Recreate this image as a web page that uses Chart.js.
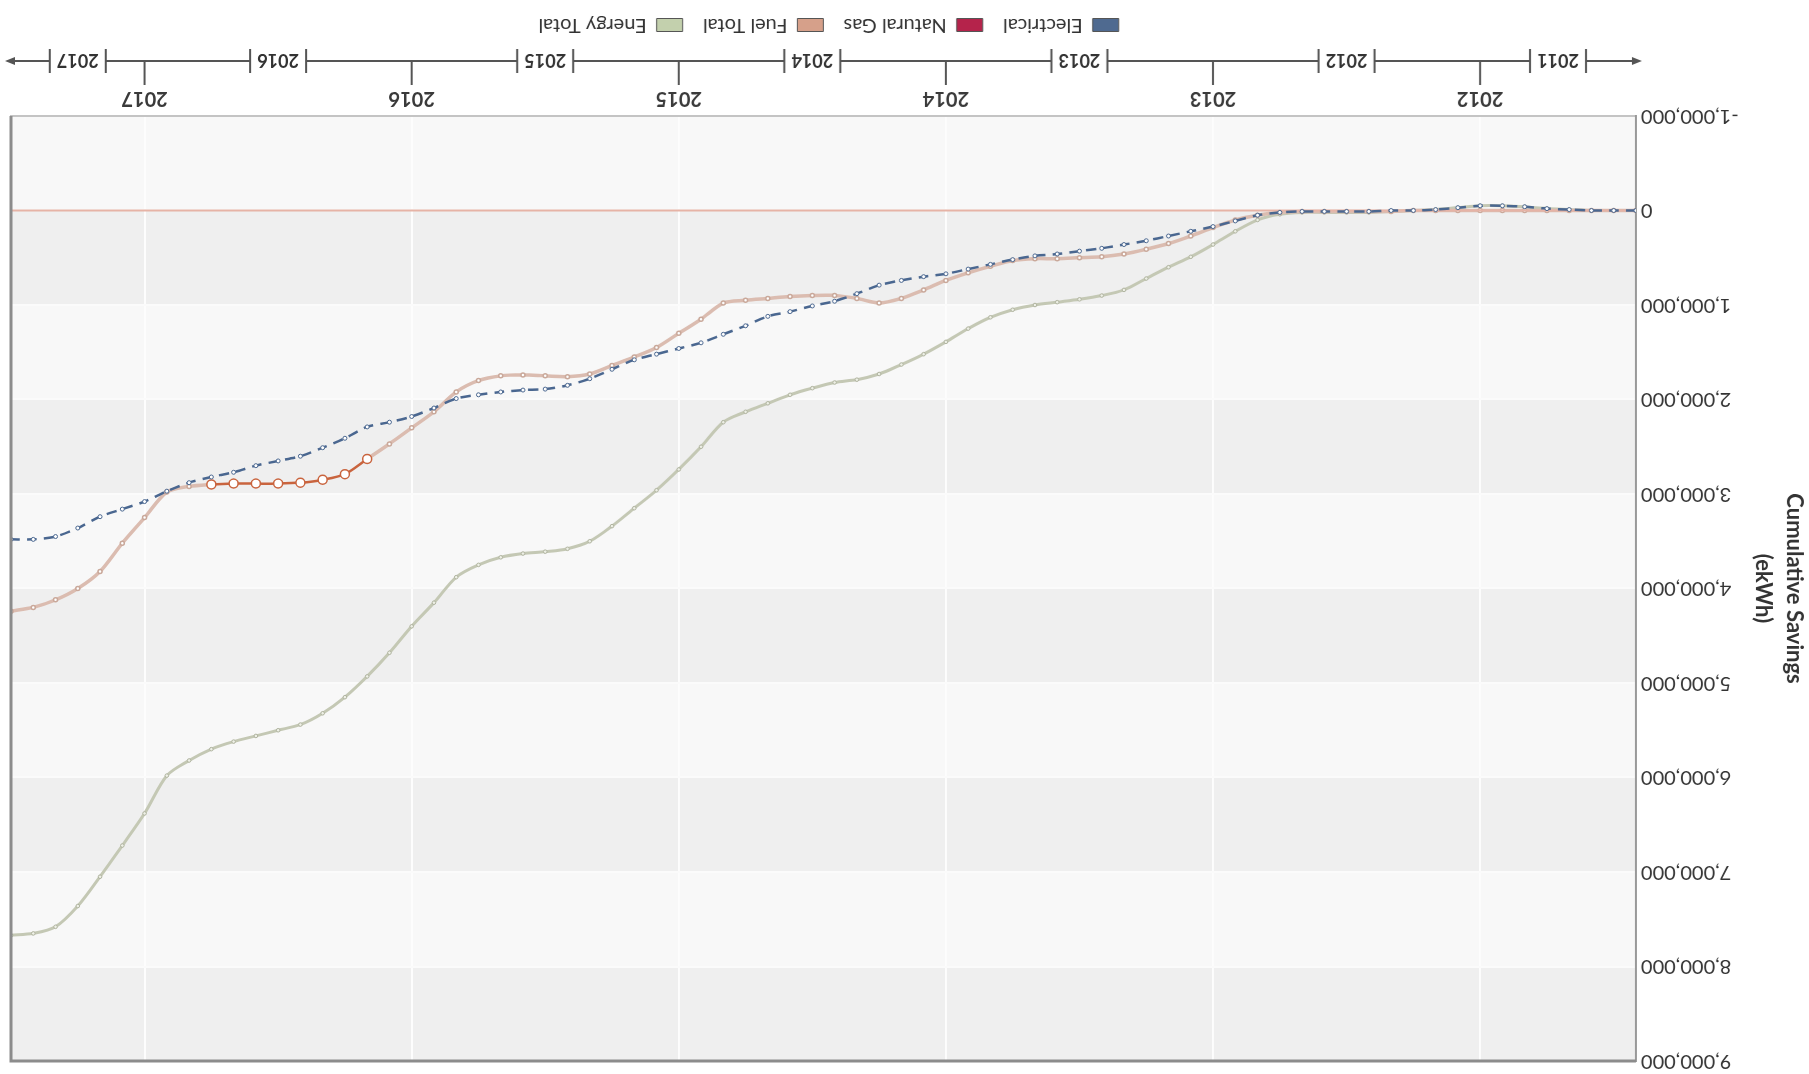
<!DOCTYPE html>
<html>
<head>
<meta charset="utf-8">
<script src="https://cdn.jsdelivr.net/npm/chart.js@4.4.1/dist/chart.umd.min.js"></script>
<style>
  html, body { margin: 0; padding: 0; background: #fff; overflow: hidden; }
  /* the reference picture is upside down, so the whole chart is turned 180 degrees */
  #wrap { width: 1809px; height: 1074px; transform: rotate(180deg); }
</style>
</head>
<body>
<div id="wrap"><canvas id="graficoRisparmi" width="1809" height="1074"></canvas></div>
<script>
// DATI
const months = [
  "2011-06", "2011-07", "2011-08", "2011-09", "2011-10", "2011-11", "2011-12",
  "2012-01", "2012-02", "2012-03", "2012-04", "2012-05", "2012-06", "2012-07", "2012-08", "2012-09", "2012-10", "2012-11", "2012-12",
  "2013-01", "2013-02", "2013-03", "2013-04", "2013-05", "2013-06", "2013-07", "2013-08", "2013-09", "2013-10", "2013-11", "2013-12",
  "2014-01", "2014-02", "2014-03", "2014-04", "2014-05", "2014-06", "2014-07", "2014-08", "2014-09", "2014-10", "2014-11", "2014-12",
  "2015-01", "2015-02", "2015-03", "2015-04", "2015-05", "2015-06", "2015-07", "2015-08", "2015-09", "2015-10", "2015-11", "2015-12",
  "2016-01", "2016-02", "2016-03", "2016-04", "2016-05", "2016-06", "2016-07", "2016-08", "2016-09", "2016-10", "2016-11", "2016-12",
  "2017-01", "2017-02", "2017-03", "2017-04", "2017-05", "2017-06", "2017-07"
];

// cumulative savings, ekWh
const electrical = [
  0, 0, 0, -10000, -20000, -40000, -50000,
  -50000, -30000, -10000, 0, 0, 10000, 10000, 10000, 10000, 20000, 50000, 110000,
  170000, 220000, 270000, 320000, 360000, 400000, 430000, 460000, 480000, 520000, 570000, 620000,
  670000, 700000, 740000, 790000, 880000, 960000, 1010000, 1070000, 1120000, 1220000, 1310000, 1400000,
  1460000, 1520000, 1580000, 1680000, 1780000, 1850000, 1890000, 1900000, 1920000, 1950000, 1990000, 2090000,
  2180000, 2240000, 2290000, 2410000, 2510000, 2600000, 2650000, 2700000, 2770000, 2820000, 2880000, 2970000,
  3080000, 3160000, 3240000, 3360000, 3450000, 3480000, 3480000
];
const naturalGas = [
  0, 0, 0, 0, 0, 0, 0,
  0, 0, 0, 0, 0, 0, 0, 0, 0, 0, 0, 0,
  0, 0, 0, 0, 0, 0, 0, 0, 0, 0, 0, 0,
  0, 0, 0, 0, 0, 0, 0, 0, 0, 0, 0, 0,
  0, 0, 0, 0, 0, 0, 0, 0, 0, 0, 0, 0,
  0, 0, 0, 0, 0, 0, 0, 0, 0, 0, 0, 0,
  0, 0, 0, 0, 0, 0, 0
];
const fuelTotal = [
  0, 0, 0, 0, 0, 0, 0,
  0, 0, 0, 0, 10000, 10000, 10000, 10000, 10000, 20000, 50000, 100000,
  180000, 270000, 350000, 410000, 460000, 490000, 500000, 510000, 510000, 530000, 590000, 660000,
  740000, 840000, 930000, 980000, 930000, 900000, 900000, 910000, 930000, 950000, 980000, 1150000,
  1300000, 1450000, 1550000, 1640000, 1730000, 1760000, 1750000, 1740000, 1750000, 1800000, 1920000, 2130000,
  2300000, 2470000, 2630000, 2790000, 2850000, 2880000, 2890000, 2890000, 2890000, 2900000, 2920000, 2980000,
  3250000, 3520000, 3820000, 4000000, 4120000, 4200000, 4240000
];
const energyTotal = [
  0, 0, 0, -10000, -20000, -40000, -50000,
  -50000, -30000, -10000, 0, 10000, 20000, 20000, 20000, 20000, 40000, 100000, 220000,
  360000, 490000, 600000, 720000, 840000, 900000, 940000, 970000, 1000000, 1050000, 1130000, 1250000,
  1390000, 1520000, 1630000, 1730000, 1790000, 1820000, 1880000, 1950000, 2040000, 2130000, 2240000, 2500000,
  2740000, 2960000, 3150000, 3340000, 3500000, 3580000, 3610000, 3630000, 3670000, 3750000, 3880000, 4150000,
  4400000, 4680000, 4930000, 5150000, 5320000, 5440000, 5500000, 5560000, 5620000, 5700000, 5820000, 5980000,
  6380000, 6720000, 7050000, 7360000, 7580000, 7650000, 7670000
];

const seriesNames = ["Electrical", "Natural Gas", "Fuel Total", "Energy Total"];
const yearTicks = [2012, 2013, 2014, 2015, 2016, 2017];
const bandYears = [2011, 2012, 2013, 2014, 2015, 2016, 2017];
const yMin = -1000000;
const yMax = 9000000;

// mese "2014-03" -> 2014.1667
const toYear = (m) => Number(m.slice(0, 4)) + (Number(m.slice(5, 7)) - 1) / 12;
const punti = (valori) => valori.map((v, i) => ({ x: toYear(months[i]), y: v }));

Chart.defaults.font.family = "Lato";

// fasce grigie alternate dietro al grafico
const fasce = {
  id: "fasce",
  afterLayout(chart) {
    // legenda centrata sull'area del grafico, non sulla tela
    const lg = chart.legend;
    if (lg) {
      const shift = (chart.chartArea.left + chart.chartArea.right) / 2 - (lg.left + lg.right) / 2;
      lg.left += shift;
      lg.right += shift;
    }
  },
  beforeDraw(chart) {
    const ctx = chart.ctx;
    const a = chart.chartArea;
    const y = chart.scales.y;
    ctx.save();
    ctx.fillStyle = "#f8f8f8";
    ctx.fillRect(a.left, a.top, a.width, a.height);
    ctx.fillStyle = "#efefef";
    for (let k = 1; k < y.ticks.length - 1; k += 2) {
      const y0 = y.getPixelForValue(y.ticks[k].value);
      const y1 = y.getPixelForValue(y.ticks[k + 1].value);
      ctx.fillRect(a.left, y1, a.width, y0 - y1);
    }
    ctx.restore();
  },
  afterDatasetsDraw(chart) {
    const ctx = chart.ctx;
    const a = chart.chartArea;
    ctx.save();
    ctx.strokeStyle = "#8c8c8c";
    ctx.lineWidth = 3;
    ctx.beginPath();
    ctx.moveTo(a.left, a.top);
    ctx.lineTo(a.right, a.top);
    ctx.lineTo(a.right, a.bottom);
    ctx.stroke();
    ctx.restore();
  }
};

// banda degli anni sotto l'asse x
const bandaAnni = {
  id: "bandaAnni",
  afterDraw(chart) {
    const ctx = chart.ctx;
    const x = chart.scales.x;
    const a = chart.chartArea;
    const y = x.top + 55;
    ctx.save();
    ctx.strokeStyle = "#555";
    ctx.fillStyle = "#555";
    ctx.lineWidth = 2;

    ctx.beginPath();
    ctx.moveTo(a.left, y);
    ctx.lineTo(a.right, y);
    ctx.stroke();

    // frecce
    ctx.beginPath();
    ctx.moveTo(a.left - 6, y);
    ctx.lineTo(a.left + 4, y - 4);
    ctx.lineTo(a.left + 4, y + 4);
    ctx.closePath();
    ctx.fill();
    ctx.beginPath();
    ctx.moveTo(a.right + 6, y);
    ctx.lineTo(a.right - 4, y - 4);
    ctx.lineTo(a.right - 4, y + 4);
    ctx.closePath();
    ctx.fill();

    yearTicks.forEach((v) => {
      const px = x.getPixelForValue(v);
      ctx.beginPath();
      ctx.moveTo(px, y);
      ctx.lineTo(px, y - 24);
      ctx.stroke();
    });

    ctx.font = "bold 18px Lato";
    ctx.textAlign = "center";
    ctx.textBaseline = "middle";
    bandYears.forEach((anno) => {
      const da = Math.max(anno, x.min);
      const a2 = Math.min(anno + 1, x.max);
      const cx = x.getPixelForValue((da + a2) / 2);
      ctx.fillStyle = "#fff";
      ctx.fillRect(cx - 28, y - 12, 56, 24);
      ctx.beginPath();
      ctx.moveTo(cx - 28, y - 12);
      ctx.lineTo(cx - 28, y + 12);
      ctx.moveTo(cx + 28, y - 12);
      ctx.lineTo(cx + 28, y + 12);
      ctx.stroke();
      ctx.fillStyle = "#333";
      ctx.fillText(String(anno), cx, y + 1);
    });
    ctx.restore();
  }
};

const fuelVivid = (i) => i >= 57 && i <= 64;

const ctx = document.getElementById("graficoRisparmi").getContext("2d");

const dati = {
  datasets: [
    {
      label: seriesNames[0],
      data: punti(electrical),
      borderColor: "#4a6790",
      backgroundColor: "#4f6a90",
      borderWidth: 2.5,
      borderDash: [10, 7],
      pointRadius: 2,
      pointBackgroundColor: "#fff",
      pointBorderColor: "#4a6790",
      pointBorderWidth: 1,
      tension: 0.3
    },
    {
      label: seriesNames[1],
      data: punti(naturalGas),
      borderColor: "#e6b3a6",
      backgroundColor: "#b5234b",
      borderWidth: 2,
      pointRadius: 0,
      tension: 0
    },
    {
      label: seriesNames[2],
      data: punti(fuelTotal),
      borderColor: "#dbbcb0",
      backgroundColor: "#d6a08a",
      borderWidth: 3.5,
      segment: {
        borderColor: (s) => (fuelVivid(s.p0DataIndex) && fuelVivid(s.p1DataIndex) ? "#c9643e" : undefined),
        borderWidth: (s) => (fuelVivid(s.p0DataIndex) && fuelVivid(s.p1DataIndex) ? 2.5 : undefined)
      },
      pointRadius: (c) => (fuelVivid(c.dataIndex) ? 4.5 : 2),
      pointBackgroundColor: "#fff",
      pointBorderColor: (c) => (fuelVivid(c.dataIndex) ? "#c9643e" : "#c9a89a"),
      pointBorderWidth: 1.5,
      tension: 0.3
    },
    {
      label: seriesNames[3],
      data: punti(energyTotal),
      borderColor: "#c4c8b4",
      backgroundColor: "#c3d0ad",
      borderWidth: 3,
      pointRadius: 1.8,
      pointBackgroundColor: "#eef0e6",
      pointBorderColor: "#b0b4a0",
      pointBorderWidth: 1,
      tension: 0.3
    }
  ]
};

const options = {
  responsive: false,
  animation: false,
  devicePixelRatio: 1,
  layout: { padding: { top: 13, right: 11, left: 0, bottom: 5 } },
  scales: {
    x: {
      type: "linear",
      min: toYear(months[0]),
      max: toYear(months[months.length - 1]),
      afterBuildTicks: (scale) => {
        scale.ticks = yearTicks.map((v) => ({ value: v }));
      },
      afterFit: (scale) => {
        scale.height = 71;
      },
      ticks: {
        callback: (v) => String(v),
        font: { size: 20, weight: "bold" },
        color: "#3a3a3a",
        padding: 6,
        maxRotation: 0
      },
      grid: { color: "#fdfdfd", lineWidth: 2, drawTicks: false },
      border: { display: true, color: "#c4c4c4", width: 2 }
    },
    y: {
      min: yMin,
      max: yMax,
      afterFit: (scale) => {
        scale.width = 173;
        scale.paddingTop = 0;
        scale.paddingBottom = 0;
      },
      ticks: {
        stepSize: 1000000,
        callback: (v) => v.toLocaleString("en-US"),
        font: { size: 20 },
        color: "#333",
        padding: 5
      },
      grid: { color: "#fbfbfb", lineWidth: 2, drawTicks: false },
      border: { display: true, color: "#999", width: 2 },
      title: {
        display: true,
        text: ["Cumulative Savings", "(ekWh)"],
        font: { size: 22, weight: "bold", lineHeight: 1.4 },
        color: "#333",
        padding: { top: 0, bottom: 4 }
      }
    }
  },
  plugins: {
    legend: {
      position: "bottom",
      labels: {
        font: { size: 20 },
        color: "#333",
        boxWidth: 26,
        boxHeight: 13,
        padding: 10,
        generateLabels: (chart) =>
          chart.data.datasets.map((ds, i) => ({
            text: ds.label + "  ",
            fillStyle: ds.backgroundColor,
            strokeStyle: "#555",
            lineWidth: 1,
            lineDash: [],
            hidden: false,
            datasetIndex: i,
            fontColor: "#333"
          }))
      }
    },
    tooltip: { enabled: false }
  }
};

const graficoRisparmi = new Chart(ctx, {
  type: "line",
  data: dati,
  options: options,
  plugins: [fasce, bandaAnni]
});
</script>
</body>
</html>
